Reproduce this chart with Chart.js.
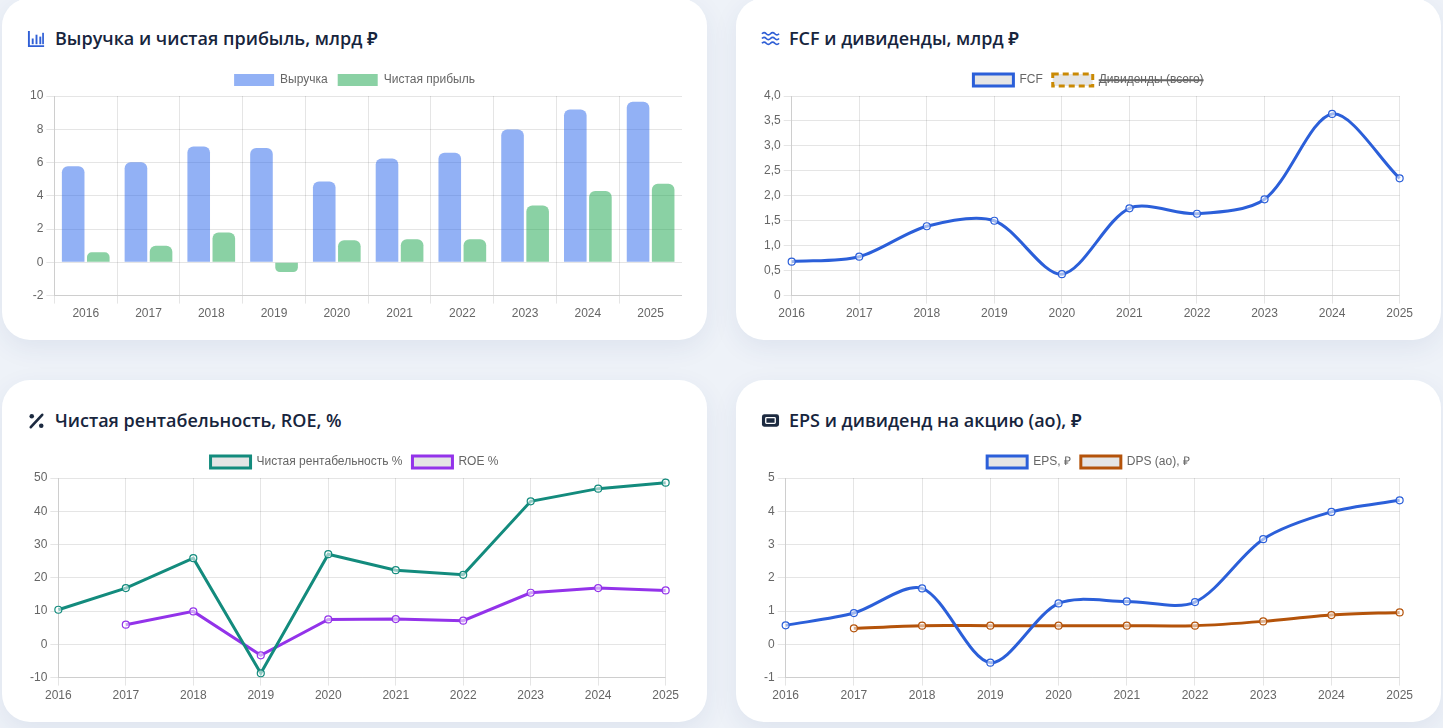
<!DOCTYPE html>
<html lang="ru">
<head>
<meta charset="utf-8">
<title>Финансовые показатели</title>
<script src="https://cdn.jsdelivr.net/npm/chart.js@4.4.1/dist/chart.umd.min.js"></script>
<style>
  html, body { margin: 0; padding: 0; }
  body {
    width: 1443px; height: 728px; overflow: hidden;
    background: #eef2f8;
    font-family: "Open Sans", "Noto Sans", sans-serif;
  }
  .grid {
    position: absolute; left: 2px; top: -2px;
    display: grid;
    grid-template-columns: 705px 705px;
    grid-template-rows: 342px 342px;
    column-gap: 29px; row-gap: 40px;
  }
  .card {
    background: #fff;
    border-radius: 28px;
    box-shadow: 0 8px 26px rgba(40, 70, 130, 0.08);
    padding: 24px 25px 16px;
    box-sizing: border-box;
    height: 342px;
  }
  .title {
    height: 32px; line-height: 32px;
    margin-bottom: 10px;
    font-size: 18px; font-weight: 600;
    color: #17253d;
    display: flex; align-items: center;
    white-space: nowrap;
  }
  .title svg { width: 19px; height: 19px; margin-right: 9px; flex: none; }
  .box { position: relative; height: 260px; }
</style>
</head>
<body>
<div class="grid">
  <div class="card">
    <div class="title">
      <svg viewBox="0 0 20 20"><path d="M2 2 V18 H18" fill="none" stroke="#2f5fd6" stroke-width="2"/>
        <rect x="5" y="10" width="2" height="6" fill="#2f5fd6"/><rect x="9" y="6" width="2" height="10" fill="#2f5fd6"/>
        <rect x="13" y="8" width="2" height="8" fill="#2f5fd6"/><rect x="16" y="4" width="1.8" height="12" fill="#2f5fd6"/></svg>
      Выручка и чистая прибыль, млрд ₽
    </div>
    <div class="box"><canvas id="revChart"></canvas></div>
  </div>
  <div class="card">
    <div class="title">
      <svg viewBox="0 0 20 20" fill="none" stroke="#2f5fd6" stroke-width="1.8">
        <path d="M1 5 q2.25 -2.5 4.5 0 t4.5 0 t4.5 0 t4.5 0"/>
        <path d="M1 10 q2.25 -2.5 4.5 0 t4.5 0 t4.5 0 t4.5 0"/>
        <path d="M1 15 q2.25 -2.5 4.5 0 t4.5 0 t4.5 0 t4.5 0"/></svg>
      FCF и дивиденды, млрд ₽
    </div>
    <div class="box"><canvas id="fcfChart"></canvas></div>
  </div>
  <div class="card">
    <div class="title">
      <svg viewBox="0 0 20 20"><path d="M4 17 L16 4" stroke="#1c2a40" stroke-width="2.8" stroke-linecap="round"/>
        <circle cx="5" cy="5.5" r="2.4" fill="#1c2a40"/><circle cx="15" cy="15.5" r="2.4" fill="#1c2a40"/></svg>
      Чистая рентабельность, ROE, %
    </div>
    <div class="box"><canvas id="marginChart"></canvas></div>
  </div>
  <div class="card">
    <div class="title">
      <svg viewBox="0 0 20 20"><rect x="1" y="3.5" width="18" height="13" rx="2.5" fill="#1c2a40"/>
        <rect x="5" y="7" width="10" height="6" rx="0.8" fill="none" stroke="#fff" stroke-width="1.4"/></svg>
      EPS и дивиденд на акцию (ао), ₽
    </div>
    <div class="box"><canvas id="epsChart"></canvas></div>
  </div>
</div>

<script>
const years = ['2016', '2017', '2018', '2019', '2020', '2021', '2022', '2023', '2024', '2025'];

// млрд ₽
const revenue   = [5.78, 6.02, 6.96, 6.88, 4.86, 6.24, 6.59, 7.98, 9.19, 9.66];
const netProfit = [0.6, 1.0, 1.79, -0.58, 1.33, 1.39, 1.39, 3.41, 4.29, 4.72];
const fcf       = [0.68, 0.78, 1.39, 1.5, 0.43, 1.75, 1.64, 1.93, 3.64, 2.35];
const dividendsTotal = [null, 0.52, 0.6, 0.6, 0.6, 0.6, 0.6, 0.74, 0.96, 1.05]; // hidden in the legend

// %
const netMargin = [10.4, 16.9, 25.9, -8.7, 27.1, 22.3, 20.9, 43.0, 46.8, 48.6];
const roe       = [null, 5.9, 9.9, -3.3, 7.5, 7.6, 7.1, 15.5, 16.9, 16.2];

// ₽ на акцию
const eps = [0.57, 0.94, 1.68, -0.55, 1.23, 1.29, 1.27, 3.16, 3.98, 4.33];
const dps = [null, 0.48, 0.56, 0.56, 0.56, 0.56, 0.56, 0.69, 0.88, 0.96];

Chart.defaults.animation = false;
Chart.defaults.font.size = 12;
Chart.defaults.color = '#666';

function opts(min, max) {
  return {
    responsive: true,
    maintainAspectRatio: false,
    locale: 'ru-RU',
    plugins: { legend: { display: true } },
    scales: {
      x: {},
      y: { min: min, max: max }
    }
  };
}

// common look of a line series
function series(label, data, color, tension, extra) {
  return Object.assign({
    label: label,
    data: data,
    borderColor: color,
    borderWidth: 3,
    tension: tension,
    pointRadius: 3.5,
    pointBorderWidth: 1.2,
    pointBackgroundColor: 'rgba(255, 255, 255, 0.55)'
  }, extra || {});
}

new Chart(document.getElementById('revChart'), {
  type: 'bar',
  data: {
    labels: years,
    datasets: [
      { label: 'Выручка', data: revenue, backgroundColor: 'rgba(37, 99, 235, 0.5)', borderRadius: 6 },
      { label: 'Чистая прибыль', data: netProfit, backgroundColor: 'rgba(22, 163, 74, 0.5)', borderRadius: 6 }
    ]
  },
  options: opts(-2, 10)
});

new Chart(document.getElementById('fcfChart'), {
  type: 'line',
  data: {
    labels: years,
    datasets: [
      series('FCF', fcf, '#2b5fd9', 0.3),
      series('Дивиденды (всего)', dividendsTotal, '#ca8a04', 0.3, { borderDash: [6, 4], hidden: true })
    ]
  },
  options: opts(0, 4)
});

new Chart(document.getElementById('marginChart'), {
  type: 'line',
  data: {
    labels: years,
    datasets: [
      series('Чистая рентабельность %', netMargin, '#138b7d', 0),
      series('ROE %', roe, '#9333ea', 0)
    ]
  },
  options: opts(-10, 50)
});

new Chart(document.getElementById('epsChart'), {
  type: 'line',
  data: {
    labels: years,
    datasets: [
      series('EPS, ₽', eps, '#2b5fd9', 0.3),
      series('DPS (ао), ₽', dps, '#b4530a', 0.3)
    ]
  },
  options: opts(-1, 5)
});
</script>
</body>
</html>
